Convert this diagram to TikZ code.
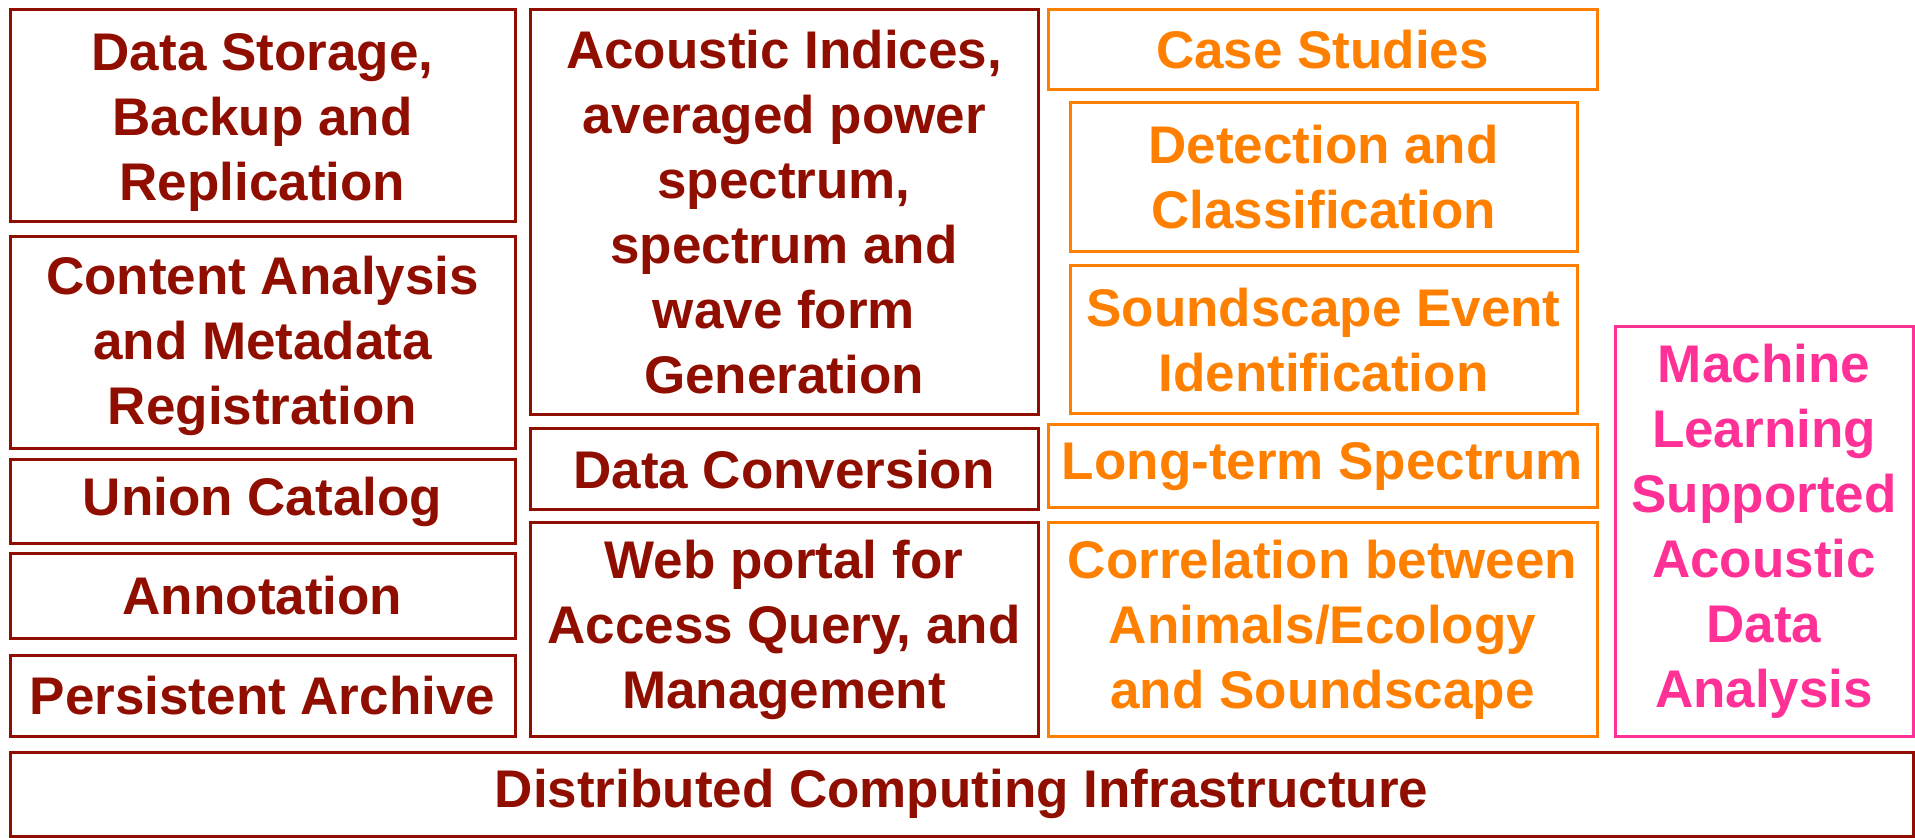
\documentclass[tikz,border=0pt]{standalone}
\usepackage{fontspec}
\setmainfont{Liberation Sans}
\usepackage{tikz}
\definecolor{deepred}{RGB}{143,14,0}
\definecolor{studyorange}{RGB}{255,128,0}
\definecolor{learnpink}{RGB}{255,48,150}
\tikzstyle{every node}=[draw, line width=1.5pt, align=center, inner sep=2pt, font=\bfseries\fontsize{26.5}{32.5}\selectfont]
\tikzstyle{core}=[deepred]
\tikzstyle{study}=[studyorange]
\tikzstyle{learn}=[learnpink]

\begin{document}
\begin{tikzpicture}[x=0.5pt, y=-0.5pt]
    \useasboundingbox (0,0) rectangle (1915,838);
% Storage column
    \node[core, minimum width=252.5pt, minimum height=106pt] (storage) at (262.5,116) {\\[-7pt]Data Storage,\\Backup and\\Replication};
    \node[core, minimum width=252.5pt, minimum height=106pt] (content) at (262.5,343) {\\[-10pt]Content Analysis\\and Metadata\\Registration};
    \node[core, minimum width=252.5pt, minimum height=42pt] (union) at (262.5,501.5) {Union Catalog};
    \node[core, minimum width=252.5pt, minimum height=42pt] (annot) at (262.5,596) {Annotation};
    \node[core, minimum width=252.5pt, minimum height=40.5pt] (archive) at (262.5,695.5) {Persistent Archive};
% Processing column
    \node[core, minimum width=254pt, minimum height=202.5pt] (indices) at (784,212.5) {Acoustic Indices,\\averaged power\\spectrum,\\spectrum and\\wave form\\Generation};
    \node[core, minimum width=254pt, minimum height=40.5pt] (convert) at (784,469.5) {Data Conversion};
    \node[core, minimum width=254pt, minimum height=106.5pt] (portal) at (784,629.5) {Web portal for\\Access Query, and\\Management};
% Studies column
    \node[study, minimum width=274.5pt, minimum height=40pt] (cases) at (1322.5,50) {Case Studies};
    \node[study, minimum width=253.5pt, minimum height=74.5pt] (detect) at (1323.5,177.5) {Detection and\\Classification};
    \node[study, minimum width=253.5pt, minimum height=74pt] (event) at (1323.5,340) {Soundscape Event\\Identification};
    \node[study, minimum width=274.5pt, minimum height=41.5pt] (longterm) at (1322.5,466.5) {Long-term Spectrum};
    \node[study, minimum width=274.5pt, minimum height=106.5pt] (correl) at (1322.5,629.5) {Correlation between\\Animals/Ecology\\and Soundscape};
% Machine learning
    \node[learn, minimum width=149pt, minimum height=204.5pt] (learning) at (1764,531.5) {Machine\\Learning\\Supported\\Acoustic\\Data\\Analysis};
% Base layer
    \node[core, minimum width=951.5pt, minimum height=42pt] (infra) at (961.5,794) {Distributed Computing Infrastructure};
\end{tikzpicture}
\end{document}
